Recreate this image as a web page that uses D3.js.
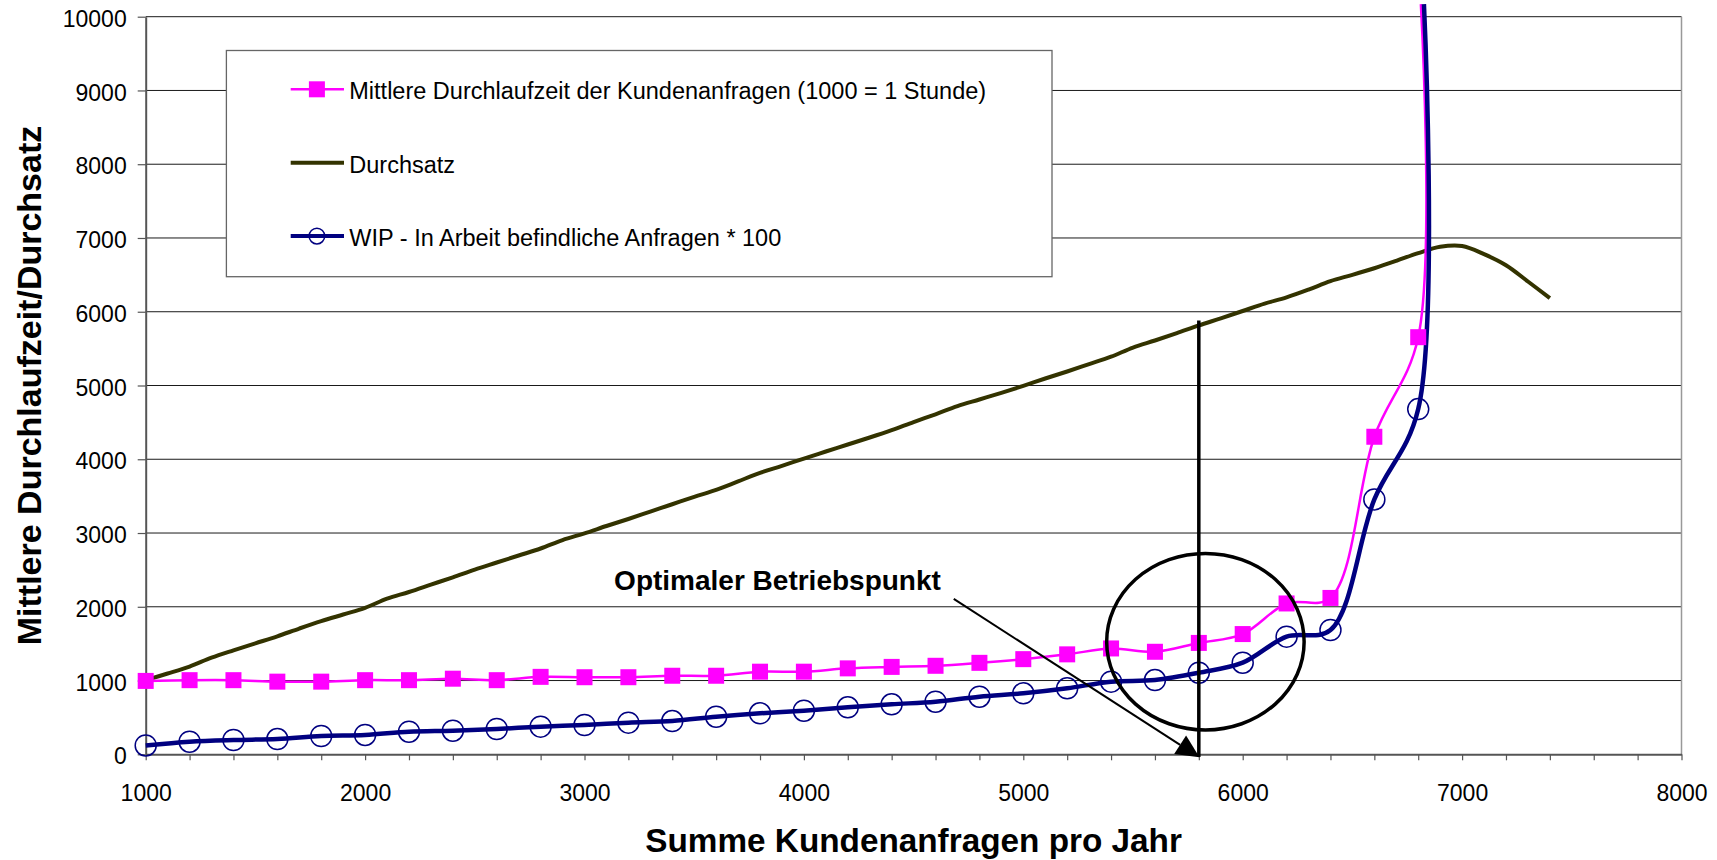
<!DOCTYPE html>
<html lang="de">
<head>
<meta charset="UTF-8">
<title>Optimaler Betriebspunkt</title>
<script src="https://d3js.org/d3.v7.min.js"></script>
<style>
  body { margin: 0; background: #fff; }
  text { font-family: "Liberation Sans", Arial, sans-serif; }
</style>
</head>
<body>
<script>
// Summe Kundenanfragen pro Jahr (Punkte mit Marker)
const anfragen = [1000, 1200, 1400, 1600, 1800, 2000, 2200, 2400, 2600, 2800,
                  3000, 3200, 3400, 3600, 3800, 4000, 4200, 4400, 4600, 4800,
                  5000, 5200, 5400, 5600, 5800, 6000, 6200, 6400, 6600, 6800];
// Mittlere Durchlaufzeit (1000 = 1 Stunde)
const durchlaufzeit = [995, 1005, 1005, 985, 985, 1005, 1005, 1025, 1005, 1050,
                       1045, 1045, 1065, 1065, 1120, 1120, 1165, 1185, 1200, 1240,
                       1290, 1355, 1435, 1390, 1510, 1630, 2045, 2120, 4305, 5655];
// WIP * 100
const wip = [120, 171, 194, 207, 248, 262, 306, 320, 343, 375,
             397, 429, 451, 510, 556, 591, 637, 678, 713, 781,
             827, 895, 985, 1007, 1106, 1242, 1595, 1685, 3455, 4680];
// letzter Linienpunkt ohne Marker (Durchlaufzeit, WIP)
const spitzeAnfragen = [6812, 6826];
const spitzeWert = [10170, 10170];

// Durchsatz
const durchsatzAnfragen = [1000, 1100, 1200, 1300, 1400, 1500, 1600, 1700, 1800, 1900,
                           2000, 2100, 2200, 2300, 2400, 2500, 2600, 2700, 2800, 2900,
                           3000, 3100, 3200, 3300, 3400, 3500, 3600, 3700, 3800, 3900,
                           4000, 4100, 4200, 4300, 4400, 4500, 4600, 4700, 4800, 4900,
                           5000, 5100, 5200, 5300, 5400, 5500, 5600, 5700, 5800, 5900,
                           6000, 6100, 6200, 6300, 6400, 6500, 6600, 6700, 6800, 6900,
                           7000, 7100, 7200, 7300, 7400];
const durchsatz = [1005, 1095, 1190, 1310, 1410, 1505, 1600, 1705, 1805, 1895,
                   1985, 2110, 2200, 2300, 2400, 2505, 2600, 2695, 2790, 2905,
                   2995, 3095, 3190, 3290, 3390, 3490, 3585, 3700, 3815, 3910,
                   4010, 4105, 4200, 4295, 4395, 4505, 4610, 4720, 4810, 4900,
                   4995, 5095, 5190, 5290, 5390, 5515, 5610, 5710, 5815, 5910,
                   6010, 6110, 6195, 6300, 6415, 6500, 6590, 6690, 6795, 6880,
                   6890, 6780, 6630, 6410, 6185];

const xTickLabels = [1000, 2000, 3000, 4000, 5000, 6000, 7000, 8000];
const yTickLabels = [0, 1000, 2000, 3000, 4000, 5000, 6000, 7000, 8000, 9000, 10000];

const legendLabels = ["Mittlere Durchlaufzeit der Kundenanfragen (1000 = 1 Stunde)",
                      "Durchsatz",
                      "WIP - In Arbeit befindliche Anfragen * 100"];

const width = 1717;
const height = 860;
const plot = { left: 145.7, right: 1681.5, top: 16.7, bottom: 754.3 };

const colPink = "#ff00ff", colBlue = "#000080", colOlive = "#333300";

const svg = d3.select("body").append("svg")
    .attr("width", width)
    .attr("height", height);

const x = d3.scaleLinear().domain([1000, 8000]).range([plot.left, plot.right]);
const y = d3.scaleLinear().domain([0, 10000]).range([plot.bottom, plot.top]);

// gridlines
svg.append("g")
  .selectAll("line")
  .data(yTickLabels.filter(d => d > 0))
  .enter().append("line")
    .attr("x1", plot.left).attr("x2", plot.right)
    .attr("y1", d => y(d)).attr("y2", d => y(d))
    .style("stroke", "#1a1a1a")
    .style("stroke-width", 1);

// right border of plot area
svg.append("line")
    .attr("x1", plot.right).attr("x2", plot.right)
    .attr("y1", plot.top).attr("y2", plot.bottom)
    .style("stroke", "#999")
    .style("stroke-width", 1.5);

// axes
const xAxis = svg.append("g")
    .attr("transform", "translate(0," + plot.bottom + ")")
    .call(d3.axisBottom(x)
      .ticks(35)
      .tickSizeInner(6)
      .tickSizeOuter(0)
      .tickPadding(24)
      .tickFormat(d => xTickLabels.includes(d) ? d : ""));

const yAxis = svg.append("g")
    .attr("transform", "translate(" + plot.left + ",0)")
    .call(d3.axisLeft(y)
      .tickValues(yTickLabels)
      .tickSizeInner(8)
      .tickSizeOuter(0)
      .tickPadding(11)
      .tickFormat(d => d));

[xAxis, yAxis].forEach(function (g) {
  g.select(".domain").style("stroke", "#555").style("stroke-width", 2);
  g.selectAll(".tick line").style("stroke", "#555").style("stroke-width", 1.2);
  g.selectAll("text")
    .style("font-family", '"Liberation Sans", Arial, sans-serif')
    .style("font-size", "23px")
    .style("fill", "#000");
});
yAxis.selectAll("text").attr("dy", "0.42em");

// axis titles
svg.append("text")
    .attr("x", (plot.left + plot.right) / 2)
    .attr("y", 851.5)
    .attr("text-anchor", "middle")
    .style("font-size", "33.3px")
    .style("font-weight", "bold")
    .text("Summe Kundenanfragen pro Jahr");

svg.append("text")
    .attr("transform", "translate(40.5," + ((plot.top + plot.bottom) / 2) + ") rotate(-90)")
    .attr("text-anchor", "middle")
    .style("font-size", "34px")
    .style("font-weight", "bold")
    .text("Mittlere Durchlaufzeit/Durchsatz");

// series
const line = d3.line()
    .x(d => x(d[0]))
    .y(d => y(d[1]))
    .curve(d3.curveCatmullRom.alpha(0.5));

const pinkPts = d3.zip(anfragen, durchlaufzeit);
const bluePts = d3.zip(anfragen, wip);

svg.append("path")
    .attr("d", line(d3.zip(durchsatzAnfragen, durchsatz)))
    .style("fill", "none")
    .style("stroke", colOlive)
    .style("stroke-width", 4)
    .style("stroke-linejoin", "round");

svg.append("path")
    .attr("d", line(pinkPts.concat([[spitzeAnfragen[0], spitzeWert[0]]])))
    .style("fill", "none")
    .style("stroke", colPink)
    .style("stroke-width", 2.5);

svg.append("path")
    .attr("d", line(bluePts.concat([[spitzeAnfragen[1], spitzeWert[1]]])))
    .style("fill", "none")
    .style("stroke", colBlue)
    .style("stroke-width", 4.5);

svg.append("g")
  .selectAll("circle")
  .data(bluePts)
  .enter().append("circle")
    .attr("cx", d => x(d[0]))
    .attr("cy", d => y(d[1]))
    .attr("r", 10.5)
    .style("fill", "none")
    .style("stroke", colBlue)
    .style("stroke-width", 1.5);

svg.append("g")
  .selectAll("rect")
  .data(pinkPts)
  .enter().append("rect")
    .attr("x", d => x(d[0]) - 8)
    .attr("y", d => y(d[1]) - 8)
    .attr("width", 16)
    .attr("height", 16)
    .style("fill", colPink);

// legend
const legend = svg.append("g")
    .attr("transform", "translate(226.4,50.5)");

legend.append("rect")
    .attr("width", 825.6)
    .attr("height", 226.2)
    .style("fill", "#fff")
    .style("stroke", "#666")
    .style("stroke-width", 1.3);

const rows = legend.selectAll("g.row")
    .data(legendLabels)
    .enter().append("g")
    .attr("class", "row")
    .attr("transform", (d, i) => "translate(0," + (38.8 + i * 73.4) + ")");

rows.append("line")
    .attr("x1", 64.3).attr("x2", 117.6)
    .style("stroke", (d, i) => [colPink, colOlive, colBlue][i])
    .style("stroke-width", (d, i) => [2.5, 4, 4][i]);

rows.filter((d, i) => i === 0).append("rect")
    .attr("x", 82.5).attr("y", -8)
    .attr("width", 16).attr("height", 16)
    .style("fill", colPink);

rows.filter((d, i) => i === 2).append("circle")
    .attr("cx", 90.5)
    .attr("r", 7.8)
    .style("fill", "none")
    .style("stroke", colBlue)
    .style("stroke-width", 1.5);

rows.append("text")
    .attr("x", 122.9)
    .attr("dy", "0.42em")
    .style("font-size", "23.5px")
    .text(d => d);

// annotation: Optimaler Betriebspunkt
const optimum = 5800;

svg.append("ellipse")
    .attr("cx", x(5830))
    .attr("cy", y(1527))
    .attr("rx", x(5830 + 450) - x(5830))
    .attr("ry", y(0) - y(1197))
    .style("fill", "none")
    .style("stroke", "#000")
    .style("stroke-width", 3.5);

svg.append("line")
    .attr("x1", x(optimum)).attr("x2", x(optimum))
    .attr("y1", y(5880)).attr("y2", y(-35))
    .style("stroke", "#000")
    .style("stroke-width", 3.5);

const pStart = [x(4683), y(2106)];
const pTip = [x(optimum + 3), y(-40)];
const ang = Math.atan2(pTip[1] - pStart[1], pTip[0] - pStart[0]);
const headLen = 23, headW = 11;
const base = [pTip[0] - headLen * Math.cos(ang), pTip[1] - headLen * Math.sin(ang)];

svg.append("line")
    .attr("x1", pStart[0]).attr("y1", pStart[1])
    .attr("x2", base[0]).attr("y2", base[1])
    .style("stroke", "#000")
    .style("stroke-width", 2);

svg.append("path")
    .attr("d", "M" + pTip[0] + "," + pTip[1] +
               "L" + (base[0] + headW * Math.sin(ang)) + "," + (base[1] - headW * Math.cos(ang)) +
               "L" + (base[0] - headW * Math.sin(ang)) + "," + (base[1] + headW * Math.cos(ang)) + "Z")
    .style("fill", "#000");

svg.append("text")
    .attr("x", x(3135))
    .attr("y", y(2221))
    .style("font-size", "28px")
    .style("font-weight", "bold")
    .text("Optimaler Betriebspunkt");
</script>
</body>
</html>
